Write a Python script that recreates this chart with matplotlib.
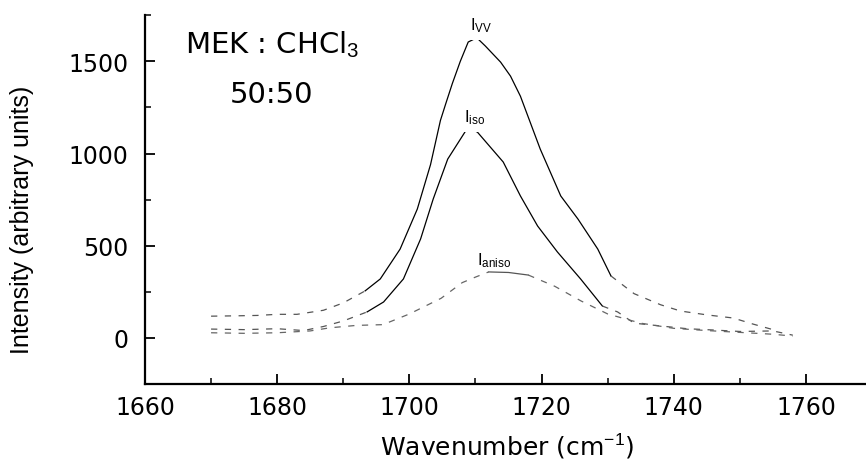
import numpy as np
import matplotlib
matplotlib.use("Agg")
import matplotlib.pyplot as plt
from matplotlib.ticker import MultipleLocator

plt.rcParams['font.family'] = ['Liberation Sans', 'DejaVu Sans']
plt.rcParams['mathtext.fontset'] = 'custom'
plt.rcParams['mathtext.rm'] = 'Liberation Sans'
plt.rcParams['mathtext.it'] = 'Liberation Sans'
plt.rcParams['mathtext.bf'] = 'Liberation Sans:bold'

# ---- data ----
wn_vv = [1670, 1674, 1677, 1680, 1683, 1687, 1690, 1693.3, 1695.6, 1698.6, 1701.2,
         1703.2, 1704.7, 1705.5, 1706.5, 1707.7, 1708.9, 1710.2, 1711.5, 1713.8,
         1715.3, 1716.8, 1719.8, 1722.9, 1725.5, 1728.5, 1730.5, 1734, 1738, 1741,
         1745, 1749, 1752, 1755]
i_vv = [118, 120, 122, 128, 128, 150, 190, 255, 320, 482, 699,
        940, 1180, 1270, 1380, 1500, 1605, 1628, 1583, 1496,
        1420, 1311, 1024, 770, 645, 482, 336, 240, 180, 146,
        125, 108, 75, 45]

wn_iso = [1670, 1675, 1680, 1684, 1687, 1690, 1693.6, 1696.1, 1699.1, 1701.7,
          1703.6, 1705.8, 1708.5, 1709.4, 1710.3, 1714.2, 1716.8, 1719.4, 1722.4,
          1725.9, 1729.2, 1731.5, 1734, 1738, 1742, 1746, 1750, 1755, 1758]
i_iso = [48, 45, 50, 40, 62, 92, 141, 195, 320, 537,
         753, 970, 1122, 1132, 1116, 954, 770, 607, 466,
         320, 173, 141, 80, 65, 50, 43, 35, 38, 15]

wn_aniso = [1670, 1675, 1680, 1685, 1688, 1692, 1696, 1700, 1704.8, 1708, 1710,
            1712, 1715, 1718, 1722, 1726, 1730, 1735, 1740, 1745, 1750, 1755, 1758]
i_aniso = [28, 25, 28, 38, 55, 68, 72, 130, 215, 300, 330,
           358, 355, 341, 280, 200, 130, 80, 52, 40, 30, 20, 10]

solid_vv = (1693, 1731)
solid_iso = (1693.5, 1729.5)
solid_aniso = (1711.5, 1718.5)

fig = plt.figure(figsize=(8.66, 4.60), dpi=100)
ax = fig.add_axes([0.1674, 0.163, 0.832, 0.802])

DASH = (0, (5, 6))

def draw(wn, val, rng, solid_color='black', dash_color='#555555'):
    wn = np.asarray(wn, float)
    val = np.asarray(val, float)
    idx = np.where((wn >= rng[0]) & (wn <= rng[1]))[0]
    lo, hi = idx[0], idx[-1]
    ax.plot(wn[lo:hi + 1], val[lo:hi + 1], color=solid_color, lw=0.9, zorder=2)
    ax.plot(wn[:lo + 1], val[:lo + 1], color=dash_color, lw=0.9, ls=DASH, zorder=2)
    ax.plot(wn[hi:], val[hi:], color=dash_color, lw=0.9, ls=DASH, zorder=2)

draw(wn_vv, i_vv, solid_vv)
draw(wn_iso, i_iso, solid_iso)
draw(wn_aniso, i_aniso, solid_aniso, solid_color='#555555', dash_color='#666666')

ax.set_xlim(1660, 1769)
ax.set_ylim(-250, 1751)
ax.xaxis.set_major_locator(MultipleLocator(20))
ax.xaxis.set_minor_locator(MultipleLocator(10))
ax.yaxis.set_major_locator(MultipleLocator(500))
ax.yaxis.set_minor_locator(MultipleLocator(250))
for s in ['top', 'right']:
    ax.spines[s].set_visible(False)
for s in ['left', 'bottom']:
    ax.spines[s].set_linewidth(1.6)
ax.tick_params(which='major', direction='in', length=7, width=1.3, labelsize=17)
ax.tick_params(which='minor', direction='in', length=4, width=1.1)
ax.tick_params(axis='x', which='major', pad=8)
ax.tick_params(axis='y', which='major', pad=12)
for lab in ax.get_xticklabels() + ax.get_yticklabels():
    lab.set_fontfamily('DejaVu Sans')

ax.set_xlabel('Wavenumber (cm$^{-1}$)', fontsize=18, family='DejaVu Sans')
ax.xaxis.set_label_coords(0.5025, -0.125)
ax.xaxis.label.set_verticalalignment('top')
ax.set_ylabel('Intensity (arbitrary units)', fontsize=18)
ax.yaxis.set_label_coords(-0.171, 0.447)
ax.yaxis.label.set_verticalalignment('center')

ax.text(1666.1, 1550, 'MEK : CHCl$_3$', fontsize=21, family='DejaVu Sans',
        ha='left', va='baseline')
ax.text(1672.9, 1279, '50:50', fontsize=21, family='DejaVu Sans',
        ha='left', va='baseline')

box = dict(facecolor='white', edgecolor='none', boxstyle='square,pad=0.35')
ax.text(1709.2, 1675, r'I$_{\mathrm{VV}}$', fontsize=12, ha='left', va='baseline',
        bbox=box, zorder=3)
ax.text(1708.2, 1176, r'I$_{\mathrm{iso}}$', fontsize=12, ha='left', va='baseline',
        bbox=box, zorder=3)
ax.text(1710.3, 401, r'I$_{\mathrm{aniso}}$', fontsize=12, ha='left', va='baseline',
        zorder=3)

fig.savefig('out.png', dpi=100)
